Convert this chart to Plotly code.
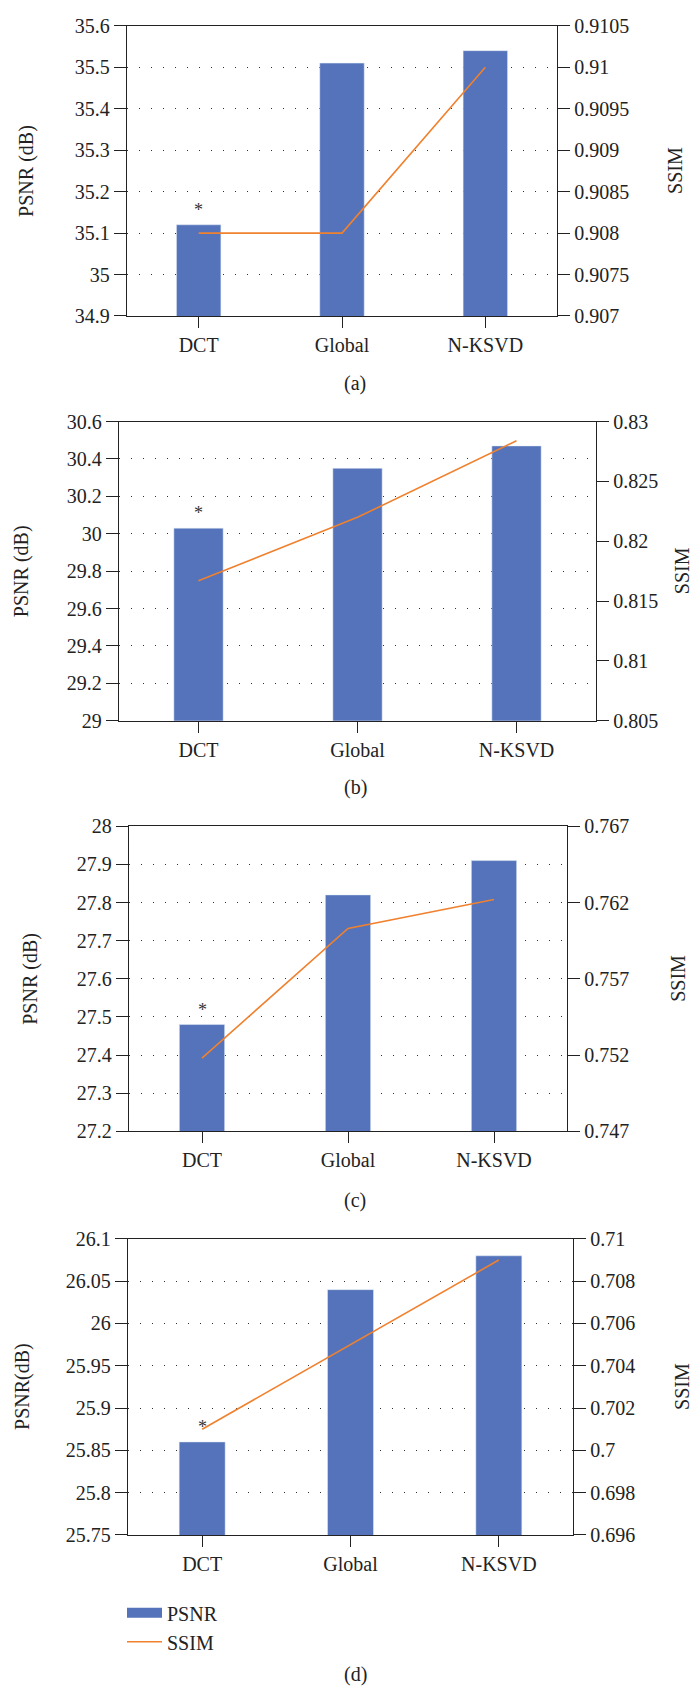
import plotly.graph_objects as go
from plotly.subplots import make_subplots

categories = ["DCT", "Global", "N-KSVD"]

psnr_a = [35.12, 35.51, 35.54]
ssim_a = [0.908, 0.908, 0.910]
psnr_b = [30.03, 30.35, 30.47]
ssim_b = [0.8167, 0.8220, 0.8284]
psnr_c = [27.48, 27.82, 27.91]
ssim_c = [0.7518, 0.7603, 0.7622]
psnr_d = [25.86, 26.04, 26.08]
ssim_d = [0.701, 0.705, 0.709]

psnr_ticks_a = [34.9, 35.0, 35.1, 35.2, 35.3, 35.4, 35.5, 35.6]
psnr_text_a = ["34.9", "35", "35.1", "35.2", "35.3", "35.4", "35.5", "35.6"]
ssim_ticks_a = [0.907, 0.9075, 0.908, 0.9085, 0.909, 0.9095, 0.910, 0.9105]
ssim_text_a = ["0.907", "0.9075", "0.908", "0.9085", "0.909", "0.9095", "0.91", "0.9105"]

psnr_ticks_b = [29.0, 29.2, 29.4, 29.6, 29.8, 30.0, 30.2, 30.4, 30.6]
psnr_text_b = ["29", "29.2", "29.4", "29.6", "29.8", "30", "30.2", "30.4", "30.6"]
ssim_ticks_b = [0.805, 0.810, 0.815, 0.820, 0.825, 0.830]
ssim_text_b = ["0.805", "0.81", "0.815", "0.82", "0.825", "0.83"]

psnr_ticks_c = [27.2, 27.3, 27.4, 27.5, 27.6, 27.7, 27.8, 27.9, 28.0]
psnr_text_c = ["27.2", "27.3", "27.4", "27.5", "27.6", "27.7", "27.8", "27.9", "28"]
ssim_ticks_c = [0.747, 0.752, 0.757, 0.762, 0.767]
ssim_text_c = ["0.747", "0.752", "0.757", "0.762", "0.767"]

psnr_ticks_d = [25.75, 25.80, 25.85, 25.90, 25.95, 26.00, 26.05, 26.10]
psnr_text_d = ["25.75", "25.8", "25.85", "25.9", "25.95", "26", "26.05", "26.1"]
ssim_ticks_d = [0.696, 0.698, 0.700, 0.702, 0.704, 0.706, 0.708, 0.710]
ssim_text_d = ["0.696", "0.698", "0.7", "0.702", "0.704", "0.706", "0.708", "0.71"]

psnr_titles = ["PSNR (dB)", "PSNR (dB)", "PSNR (dB)", "PSNR(dB)"]
ssim_title = "SSIM"
captions = ["(a)", "(b)", "(c)", "(d)"]

panels = [
    (psnr_a, ssim_a, psnr_ticks_a, psnr_text_a, ssim_ticks_a, ssim_text_a),
    (psnr_b, ssim_b, psnr_ticks_b, psnr_text_b, ssim_ticks_b, ssim_text_b),
    (psnr_c, ssim_c, psnr_ticks_c, psnr_text_c, ssim_ticks_c, ssim_text_c),
    (psnr_d, ssim_d, psnr_ticks_d, psnr_text_d, ssim_ticks_d, ssim_text_d),
]

W, H = 693, 1698
# pixel boxes of each plot area: (left, right, top, bottom)
boxes = [(127, 557, 15, 309), (119, 596, 416, 719), (129, 567, 826, 1135), (128, 573, 1244, 1544)]
caption_y = [377, 787, 1205, 1685]
left_title_x = [27, 21, 31, 23]
right_title_x = [675, 682, 678, 682]

BAR = "#5473BA"
LINE = "#F0812E"
FONT = "Liberation Serif"
FS = 20
AX = "#222222"
TXT = "#222222"

fig = make_subplots(rows=4, cols=1, specs=[[{"secondary_y": True}]] * 4)

for i, (ps, ss, pt, ptt, st, stt) in enumerate(panels):
    r = i + 1
    fig.add_trace(go.Bar(x=categories, y=ps, name="PSNR", marker_color=BAR, width=0.31,
                         showlegend=False), row=r, col=1, secondary_y=False)
    if i == 3:
        # legend entry for the bars, drawn as a wide swatch like the original
        fig.add_trace(go.Scatter(x=[None], y=[None], name="PSNR", mode="lines",
                                 line=dict(color=BAR, width=10), showlegend=True),
                      row=r, col=1, secondary_y=False)
    fig.add_trace(go.Scatter(x=categories, y=ss, name="SSIM", mode="lines",
                             line=dict(color=LINE, width=1.6), showlegend=(i == 3)),
                  row=r, col=1, secondary_y=True)
    l, rt, t, b = boxes[i]
    fig.update_xaxes(domain=[l / W, rt / W], row=r, col=1,
                     showline=True, linecolor=AX, linewidth=1.3, mirror=True,
                     ticks="outside", ticklen=11, tickwidth=1.3, tickcolor=AX,
                     tickfont=dict(family=FONT, size=FS, color=TXT), showgrid=False)
    fig.update_yaxes(domain=[1 - b / H, 1 - t / H], row=r, col=1, secondary_y=False,
                     range=[pt[0], pt[-1]], tickvals=pt, ticktext=ptt,
                     showline=True, linecolor=AX, linewidth=1.3,
                     ticks="outside", ticklen=12, tickwidth=1.3, tickcolor=AX,
                     tickfont=dict(family=FONT, size=FS, color=TXT),
                     showgrid=True, gridcolor="#333333", gridwidth=1.3, griddash="1.3px,10.7px",
                     zeroline=False)
    fig.update_yaxes(row=r, col=1, secondary_y=True,
                     range=[st[0], st[-1]], tickvals=st, ticktext=stt,
                     showline=True, linecolor=AX, linewidth=1.3,
                     ticks="outside", ticklen=12, tickwidth=1.3, tickcolor=AX,
                     tickfont=dict(family=FONT, size=FS, color=TXT),
                     showgrid=False, zeroline=False)
    xref = "x" if i == 0 else f"x{r}"
    yref = "y" if i == 0 else f"y{2 * i + 1}"
    mid = 1 - (t + b) / 2 / H
    # axis titles
    fig.add_annotation(x=left_title_x[i] / W, y=mid, xref="paper", yref="paper",
                       text=psnr_titles[i], textangle=-90, showarrow=False,
                       xanchor="center", yanchor="middle",
                       font=dict(family=FONT, size=FS, color=TXT))
    fig.add_annotation(x=right_title_x[i] / W, y=mid, xref="paper", yref="paper",
                       text=ssim_title, textangle=-90, showarrow=False,
                       xanchor="center", yanchor="middle",
                       font=dict(family=FONT, size=FS, color=TXT))
    # significance star above the DCT bar
    fig.add_annotation(x=categories[0], y=ps[0], xref=xref, yref=yref, text="*",
                       showarrow=False, yanchor="bottom", yshift=3,
                       font=dict(family=FONT, size=18, color="#333"))
    # panel caption
    fig.add_annotation(x=355 / W, y=1 - caption_y[i] / H, xref="paper", yref="paper",
                       text=captions[i], showarrow=False, xanchor="center", yanchor="middle",
                       font=dict(family=FONT, size=FS, color=TXT))

fig.update_layout(
    width=W, height=H, margin=dict(l=0, r=0, t=0, b=0),
    plot_bgcolor="white", paper_bgcolor="white",
    font=dict(family=FONT, size=FS, color=TXT),
    legend=dict(x=122 / W, y=1 - 1603 / H, xanchor="left", yanchor="top",
                orientation="v", font=dict(family=FONT, size=FS, color=TXT),
                itemwidth=35, tracegroupgap=0, bgcolor="rgba(0,0,0,0)"),
)

fig.write_html("out.html", config={"displayModeBar": False},
               post_script="document.body.style.margin='0px';")
